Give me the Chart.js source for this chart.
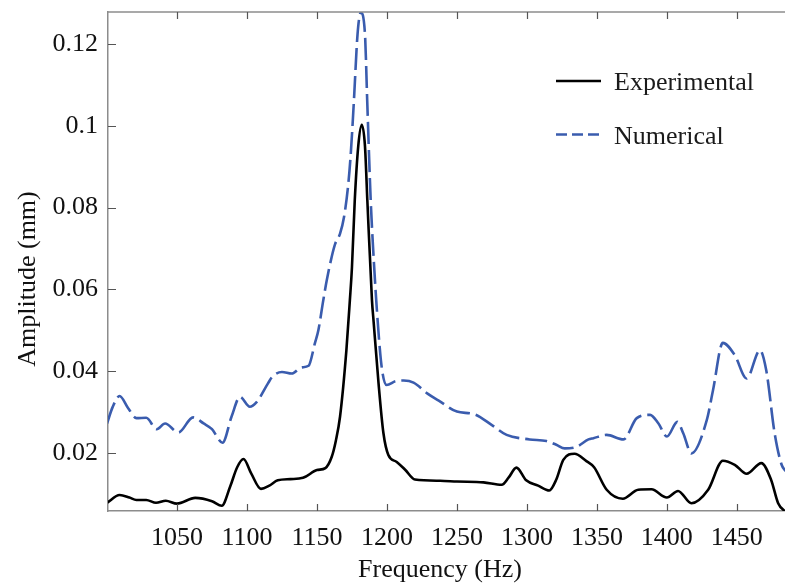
<!DOCTYPE html>
<html>
<head>
<meta charset="utf-8">
<title>Amplitude vs Frequency</title>
<script src="https://cdn.jsdelivr.net/npm/chart.js@4.4.1/dist/chart.umd.min.js"></script>
<style>
  html, body { margin: 0; padding: 0; background: #fff; }
  #wrap { width: 785px; height: 588px; }
</style>
</head>
<body>
<div id="wrap"><canvas id="ampChart" width="785" height="588"></canvas></div>
<script>
// Measured response (Hz, mm)
const expFreq = [1000, 1009, 1016, 1021, 1028, 1035, 1042, 1050, 1063, 1075, 1082, 1088, 1093, 1097.5,
    1103, 1110, 1116, 1122, 1131, 1140, 1150, 1156, 1160.5, 1163.5, 1166.5, 1171, 1173.5, 1175, 1177,
    1179.5, 1182, 1184.3, 1186, 1189.3, 1190.5, 1194, 1197.5, 1201, 1207, 1213, 1220, 1238, 1250, 1269,
    1282, 1287, 1292.5, 1299.5, 1308, 1316, 1321, 1326, 1334, 1342.5, 1348, 1357, 1368.5, 1379.5, 1389,
    1400, 1408, 1417.5, 1429.5, 1440, 1448.5, 1457, 1467.5, 1474.5, 1479.5, 1485];
const expAmp = [0.0078, 0.0097, 0.0091, 0.0085, 0.0085, 0.0078, 0.0083, 0.0076, 0.0090, 0.0082, 0.0071,
    0.0118, 0.0165, 0.0185, 0.0150, 0.0112, 0.0120, 0.0133, 0.0136, 0.0139, 0.0158, 0.0163, 0.0190, 0.0230,
    0.0289, 0.0450, 0.0573, 0.0654, 0.0817, 0.0950, 0.1002, 0.0950, 0.0817, 0.0573, 0.0520, 0.0370, 0.0248,
    0.0195, 0.0178, 0.0159, 0.0135, 0.0132, 0.0130, 0.0128, 0.0122, 0.0140, 0.0164, 0.0133, 0.0120, 0.0108,
    0.0135, 0.0183, 0.0198, 0.0180, 0.0165, 0.0110, 0.0088, 0.0110, 0.0111, 0.0091, 0.0107, 0.0077, 0.0110,
    0.0181, 0.0171, 0.0149, 0.0175, 0.0134, 0.0077, 0.0055];

// Model prediction (Hz, mm)
const numFreq = [1000, 1004, 1009, 1015, 1021, 1028, 1035.5, 1041.5, 1051, 1061.5, 1069, 1075, 1082.5,
    1089, 1095, 1102, 1107, 1115, 1118, 1125, 1132, 1139, 1144, 1148.5, 1151, 1154.5, 1157, 1160.5, 1163,
    1166.5, 1169.3, 1172.4, 1174.3, 1176.4, 1179, 1181.3, 1184.3, 1185.9, 1188.4, 1190.2, 1192.8, 1196.2,
    1199.8, 1206, 1212, 1219, 1229, 1237, 1250, 1262, 1275, 1285.5, 1302, 1314, 1321, 1327, 1335.5, 1344,
    1347.5, 1357, 1369, 1378.5, 1388, 1394, 1400, 1407.5, 1411.7, 1417.5, 1428.5, 1433, 1440, 1448.5,
    1457, 1466.5, 1471, 1477, 1482, 1485];
const numAmp = [0.0272, 0.0312, 0.0339, 0.0310, 0.0285, 0.0286, 0.0258, 0.0272, 0.0250, 0.0287, 0.0272,
    0.0258, 0.0225, 0.0289, 0.0337, 0.0313, 0.0325, 0.0370, 0.0386, 0.0398, 0.0394, 0.0409, 0.0413, 0.0468,
    0.0500, 0.0573, 0.0622, 0.0679, 0.0711, 0.0736, 0.0776, 0.0858, 0.0939, 0.1061, 0.1224, 0.1276, 0.1224,
    0.1061, 0.0817, 0.0695, 0.0550, 0.0411, 0.0366, 0.0375, 0.0377, 0.0372, 0.0345, 0.0328, 0.0301, 0.0295,
    0.0268, 0.0244, 0.0233, 0.0229, 0.0220, 0.0211, 0.0215, 0.0233, 0.0236, 0.0244, 0.0233, 0.0285, 0.0293,
    0.0272, 0.0240, 0.0276, 0.0248, 0.0199, 0.0280, 0.0354, 0.0469, 0.0439, 0.0382, 0.0451, 0.0402, 0.0248,
    0.0171, 0.0155];

const seriesLabels = ["Experimental", "Numerical"];
const xTicks = [1050, 1100, 1150, 1200, 1250, 1300, 1350, 1400, 1450];
const yTicks = [0.02, 0.04, 0.06, 0.08, 0.1, 0.12];

const FONT = "'Liberation Serif', 'Times New Roman', serif";

function toPoints(xs, ys) {
    return xs.map((x, i) => ({ x: x, y: ys[i] }));
}

// Inward tick marks, top frame line, axis titles and the legend box
const framePlugin = {
    id: "frame",
    afterDraw(chart) {
        const ctx = chart.ctx;
        const area = chart.chartArea;
        const xs = chart.scales.x;
        const ys = chart.scales.y;
        ctx.save();

        // top frame line
        ctx.strokeStyle = "#8c8c8c";
        ctx.lineWidth = 1.5;
        ctx.beginPath();
        ctx.moveTo(area.left, area.top);
        ctx.lineTo(area.right, area.top);
        ctx.stroke();

        // ticks pointing into the plot
        ctx.strokeStyle = "#555";
        ctx.lineWidth = 1.2;
        ctx.beginPath();
        xTicks.forEach(v => {
            const px = Math.round(xs.getPixelForValue(v)) + 0.5;
            ctx.moveTo(px, area.bottom);
            ctx.lineTo(px, area.bottom - 7);
            ctx.moveTo(px, area.top);
            ctx.lineTo(px, area.top + 7);
        });
        yTicks.forEach(v => {
            const py = Math.round(ys.getPixelForValue(v)) + 0.5;
            ctx.moveTo(area.left, py);
            ctx.lineTo(area.left + 8, py);
        });
        ctx.stroke();

        // axis titles
        ctx.fillStyle = "#111";
        ctx.font = "26px " + FONT;
        ctx.textAlign = "center";
        ctx.textBaseline = "alphabetic";
        ctx.fillText("Frequency (Hz)", 440, 577);
        ctx.translate(34.5, 279);
        ctx.rotate(-Math.PI / 2);
        ctx.fillText("Amplitude (mm)", 0, 0);
        ctx.restore();

        // legend
        ctx.save();
        ctx.font = "26px " + FONT;
        ctx.textAlign = "left";
        ctx.textBaseline = "alphabetic";
        chart.data.datasets.forEach((ds, i) => {
            const ly = 81 + i * 53.5;
            ctx.strokeStyle = ds.borderColor;
            ctx.lineWidth = 2.4;
            ctx.setLineDash(ds.borderDash ? [11, 5] : []);
            ctx.beginPath();
            ctx.moveTo(556, ly);
            ctx.lineTo(601, ly);
            ctx.stroke();
            ctx.setLineDash([]);
            ctx.fillStyle = "#1a1a1a";
            ctx.fillText(ds.label, 614, ly + 9);
        });
        ctx.restore();
    }
};

function initializeGraph() {
    const ctx = document.getElementById("ampChart").getContext("2d");
    return new Chart(ctx, {
        type: "line",
        data: {
            datasets: [
                {
                    label: seriesLabels[0],
                    data: toPoints(expFreq, expAmp),
                    borderColor: "#000000",
                    borderWidth: 2.6,
                    pointRadius: 0,
                    cubicInterpolationMode: "monotone",
                    fill: false,
                },
                {
                    label: seriesLabels[1],
                    data: toPoints(numFreq, numAmp),
                    borderColor: "#3a5cae",
                    borderWidth: 2.6,
                    borderDash: [22, 6],
                    pointRadius: 0,
                    cubicInterpolationMode: "monotone",
                    fill: false,
                },
            ],
        },
        options: {
            responsive: false,
            animation: false,
            devicePixelRatio: 1,
            layout: { padding: { top: 12, right: 0, bottom: 0, left: 0 } },
            plugins: {
                legend: { display: false },
                tooltip: { enabled: false },
            },
            scales: {
                x: {
                    type: "linear",
                    min: 1000.7,
                    max: 1484.4,
                    grid: { display: false, drawTicks: false },
                    border: { display: true, color: "#8c8c8c", width: 1.5 },
                    ticks: {
                        font: { family: FONT, size: 26 },
                        color: "#111",
                        padding: 12,
                        maxRotation: 0,
                        autoSkip: false,
                        callback: v => String(v),
                    },
                    afterBuildTicks: scale => { scale.ticks = xTicks.map(v => ({ value: v })); },
                    afterFit: scale => {
                        scale.height = 77;
                        scale.paddingLeft = 0;
                        scale.paddingRight = 0;
                    },
                },
                y: {
                    type: "linear",
                    min: 0.0058,
                    max: 0.1278,
                    grid: { display: false, drawTicks: false },
                    border: { display: true, color: "#8c8c8c", width: 1.5 },
                    ticks: {
                        font: { family: FONT, size: 26 },
                        color: "#111",
                        padding: 10,
                        autoSkip: false,
                        callback: v => String(v),
                    },
                    afterBuildTicks: scale => { scale.ticks = yTicks.map(v => ({ value: v })); },
                    afterFit: scale => {
                        scale.width = 108;
                        scale.paddingTop = 0;
                        scale.paddingBottom = 0;
                    },
                },
            },
        },
        plugins: [framePlugin],
    });
}

document.addEventListener("DOMContentLoaded", initializeGraph);
</script>
</body>
</html>
